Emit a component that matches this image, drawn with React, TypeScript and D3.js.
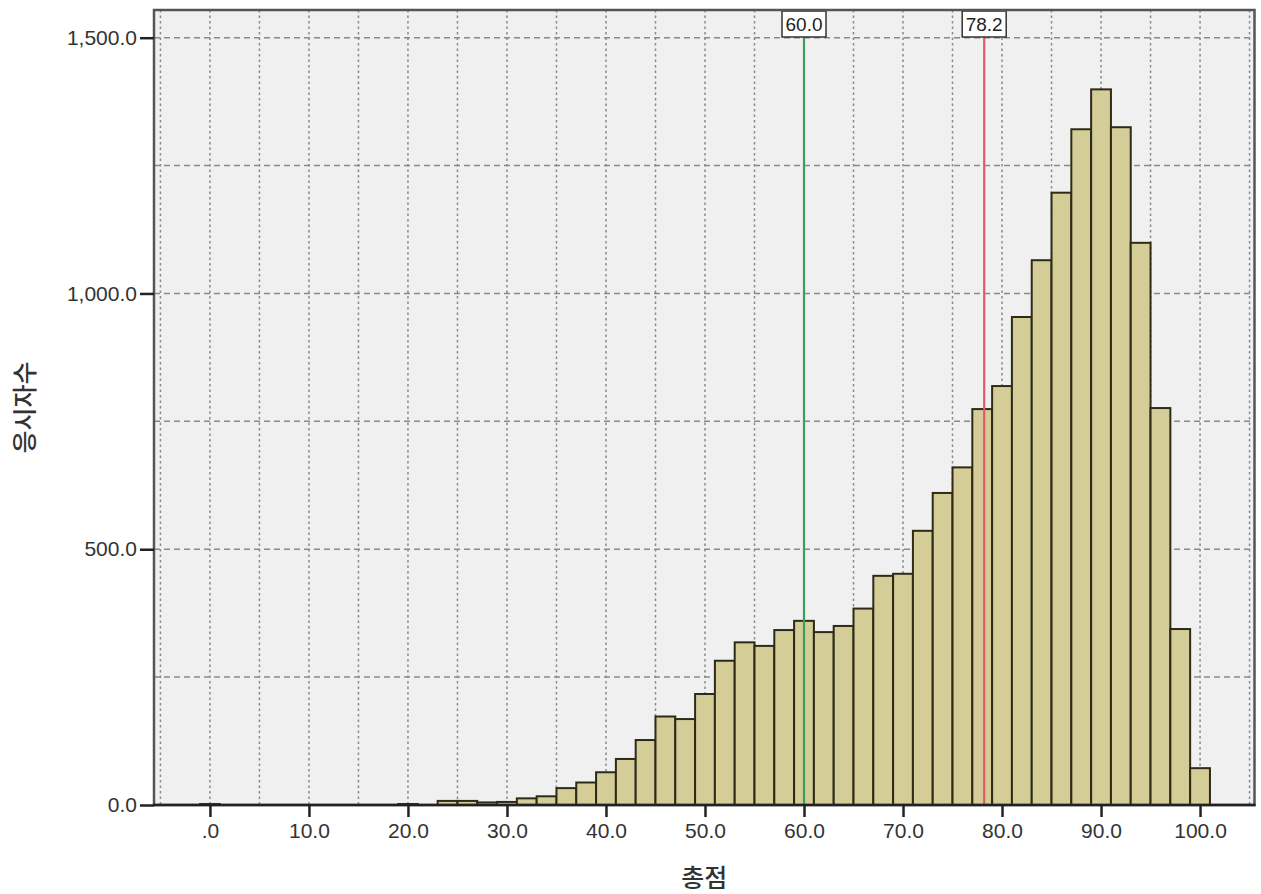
import React, { useEffect, useRef } from 'react';
import * as d3 from 'd3';

// bin centres (width 2) and counts
const binCenters = [0, 20, 24, 26, 28, 30, 32, 34, 36, 38, 40, 42, 44, 46, 48, 50, 52, 54, 56, 58, 60, 62, 64, 66, 68, 70, 72, 74, 76, 78, 80, 82, 84, 86, 88, 90, 92, 94, 96, 98, 100];
const binCounts = [2, 2, 8, 8, 5, 6, 13, 17, 33, 44, 64, 90, 127, 173, 168, 217, 282, 318, 311, 342, 360, 338, 350, 384, 448, 452, 536, 610, 660, 774, 819, 954, 1065, 1197, 1321, 1399, 1325, 1099, 776, 344, 72];
const binWidth = 2;

const xTicks = [0, 10, 20, 30, 40, 50, 60, 70, 80, 90, 100];
const xGrid = [-5, 0, 5, 10, 15, 20, 25, 30, 35, 40, 45, 50, 55, 60, 65, 70, 75, 80, 85, 90, 95, 100, 105];
const yTicks = [0, 500, 1000, 1500];
const yGrid = [250, 500, 750, 1000, 1250, 1500];

const refLines = [
  { value: 60.0, label: '60.0', color: '#3f9d5e' },
  { value: 78.2, label: '78.2', color: '#e5566f' },
];

const W = 1261;
const H = 894;
const FONT = '"Liberation Sans", Arial, sans-serif';
const KFONT = '"Noto Sans CJK KR", sans-serif';

const App: React.FC = () => {
  const svgRef = useRef<SVGSVGElement>(null);

  useEffect(() => {
    if (!svgRef.current) return;
    const svg = d3.select(svgRef.current);
    svg.selectAll('*').remove();

    const left = 154, right = 1254.5, top = 10, bottom = 805;

    const x = d3.scaleLinear().domain([-5.65, 105.5]).range([left, right]);
    const y = d3.scaleLinear().domain([0, 1500]).range([bottom, 37.7]);

    // plot background
    svg.append('rect')
      .attr('x', left).attr('y', top)
      .attr('width', right - left).attr('height', bottom - top)
      .attr('fill', '#f0f0f0');

    // grid
    svg.append('g').selectAll('line')
      .data(xGrid)
      .join('line')
      .attr('x1', d => x(d)).attr('x2', d => x(d))
      .attr('y1', top).attr('y2', bottom)
      .attr('stroke', '#8a8a8a')
      .attr('stroke-width', 1.5)
      .attr('stroke-dasharray', '2.5,3');

    svg.append('g').selectAll('line')
      .data(yGrid)
      .join('line')
      .attr('x1', left).attr('x2', right)
      .attr('y1', d => y(d)).attr('y2', d => y(d))
      .attr('stroke', '#8a8a8a')
      .attr('stroke-width', 1.5)
      .attr('stroke-dasharray', '6,4');

    // bars
    const bars = binCenters.map((c, i) => ({ c, v: binCounts[i] }));
    svg.append('g').selectAll('rect')
      .data(bars)
      .join('rect')
      .attr('x', d => x(d.c - binWidth / 2))
      .attr('y', d => y(d.v))
      .attr('width', d => x(d.c + binWidth / 2) - x(d.c - binWidth / 2))
      .attr('height', d => y(0) - y(d.v))
      .attr('fill', '#d4cd98')
      .attr('stroke', '#2e2a18')
      .attr('stroke-width', 2);

    // reference lines
    const ref = svg.append('g');
    refLines.forEach(r => {
      ref.append('line')
        .attr('x1', x(r.value)).attr('x2', x(r.value))
        .attr('y1', 37).attr('y2', bottom)
        .attr('stroke', r.color)
        .attr('stroke-width', 2.2);
      ref.append('rect')
        .attr('x', x(r.value) - 22).attr('y', top + 1)
        .attr('width', 44).attr('height', 26)
        .attr('fill', '#ffffff')
        .attr('stroke', '#333')
        .attr('stroke-width', 1.5);
      ref.append('text')
        .attr('x', x(r.value)).attr('y', top + 21)
        .attr('text-anchor', 'middle')
        .style('font-family', FONT)
        .style('font-size', '19px')
        .style('fill', '#222')
        .text(r.label);
    });

    // frame
    svg.append('rect')
      .attr('x', left).attr('y', top)
      .attr('width', right - left).attr('height', bottom - top)
      .attr('fill', 'none')
      .attr('stroke', '#555')
      .attr('stroke-width', 2.5);

    // axes
    const yAxis = svg.append('g')
      .attr('transform', `translate(${left},0)`)
      .call(d3.axisLeft(y).tickValues(yTicks).tickSize(14).tickPadding(3)
        .tickFormat(d => d3.format(',.1f')(d as number)));
    yAxis.select('.domain').remove();
    yAxis.selectAll('line').attr('stroke', '#222').attr('stroke-width', 2.5);
    yAxis.selectAll('text')
      .style('font-family', FONT)
      .style('font-size', '21px')
      .style('fill', '#333');

    const xAxis = svg.append('g')
      .attr('transform', `translate(0,${bottom})`)
      .call(d3.axisBottom(x).tickValues(xTicks).tickSize(12).tickPadding(6)
        .tickFormat(d => (d === 0 ? '.0' : (d as number).toFixed(1))));
    xAxis.select('.domain').remove();
    xAxis.selectAll('line').attr('stroke', '#222').attr('stroke-width', 2.5);
    xAxis.selectAll('text')
      .style('font-family', FONT)
      .style('font-size', '21px')
      .style('fill', '#333');

    svg.append('line')
      .attr('x1', left - 1).attr('x2', right + 1)
      .attr('y1', bottom).attr('y2', bottom)
      .attr('stroke', '#222')
      .attr('stroke-width', 2.5);

    // axis titles
    svg.append('text')
      .attr('x', (left + right) / 2)
      .attr('y', 887)
      .attr('text-anchor', 'middle')
      .style('font-family', KFONT)
      .style('font-size', '25px')
      .style('font-weight', '500')
      .style('fill', '#333')
      .text('총점');

    svg.append('text')
      .attr('transform', `translate(34,${(top + bottom) / 2}) rotate(-90)`)
      .attr('text-anchor', 'middle')
      .style('font-family', KFONT)
      .style('font-size', '25px')
      .style('font-weight', '500')
      .style('fill', '#333')
      .text('응시자수');
  }, []);

  return (
    <div style={{ position: 'absolute', left: 0, top: 0, width: W, height: H, background: '#fff' }}>
      <svg ref={svgRef} width={W} height={H} style={{ display: 'block' }} />
    </div>
  );
};

export default App;
